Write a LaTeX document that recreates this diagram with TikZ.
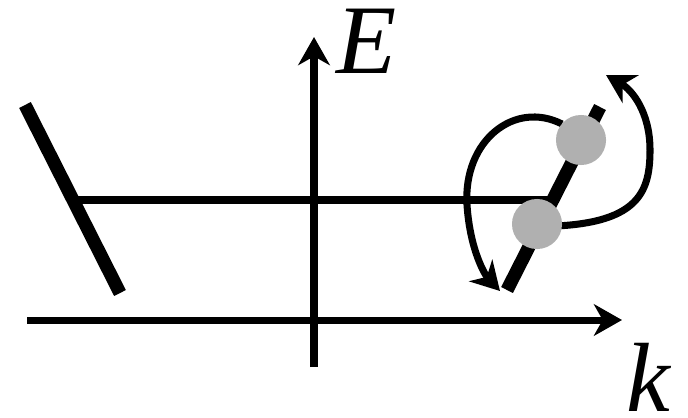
\documentclass[tikz,border=0pt]{standalone}
\usepackage{fontspec}
\setmainfont{Liberation Serif}
\usetikzlibrary{arrows.meta}
\begin{document}
\begin{tikzpicture}[x=0.02cm,y=-0.02cm,
  axis/.style={line width=4pt,-{Stealth[length=16pt,width=18pt,inset=5pt]}},
  thin/.style={line width=4pt},
  bar/.style={line width=7.5pt},
  curvearrow/.style={line width=4pt,-{Stealth[length=16pt,width=18pt,inset=5pt]}},
  dot/.style={circle,fill=gray!62,minimum size=28.5pt,inner sep=0pt,draw=none},
  lbl/.style={font=\fontsize{56}{60}\selectfont\itshape,inner sep=0pt,text height=36pt,text depth=0pt,anchor=base west}]
\useasboundingbox (0,0) rectangle (688,417);
% axes
\coordinate (kstart) at (27,320);
\coordinate (kend) at (622,320);
\coordinate (estart) at (314,367);
\coordinate (eend) at (314,37);
\draw[axis] (kstart) -- (kend);
\draw[axis] (estart) -- (eend);
\node[lbl] (E) at (336,73) {E};
\node[lbl] (k) at (626,411) {k};
% bars
\coordinate (lb1) at (25,105);
\coordinate (lb2) at (120,293);
\coordinate (rb1) at (600,107);
\coordinate (rb2) at (507,290);
\draw[bar] (lb1) -- (lb2);
\draw[bar] (rb1) -- (rb2);
% horizontal level
\coordinate (h1) at (73,200);
\coordinate (h2) at (553,200);
\draw[thin] (h1) -- (h2);
% curved arrows
\coordinate (a1s) at (562,124);
\coordinate (a1m) at (467,205);
\coordinate (a1e) at (500,291);
\coordinate (a2s) at (556,226);
\coordinate (a2m) at (650,150);
\coordinate (a2e) at (606,75);
\draw[curvearrow] (a1s) .. controls (515,100) and (463,140) .. (a1m) .. controls (470,250) and (485,275) .. (a1e);
\draw[curvearrow] (a2s) .. controls (640,222) and (650,190) .. (a2m) .. controls (650,112) and (632,90) .. (a2e);
% dots
\node[dot] (c1) at (581,140) {};
\node[dot] (c2) at (537,224) {};
\end{tikzpicture}
\end{document}
